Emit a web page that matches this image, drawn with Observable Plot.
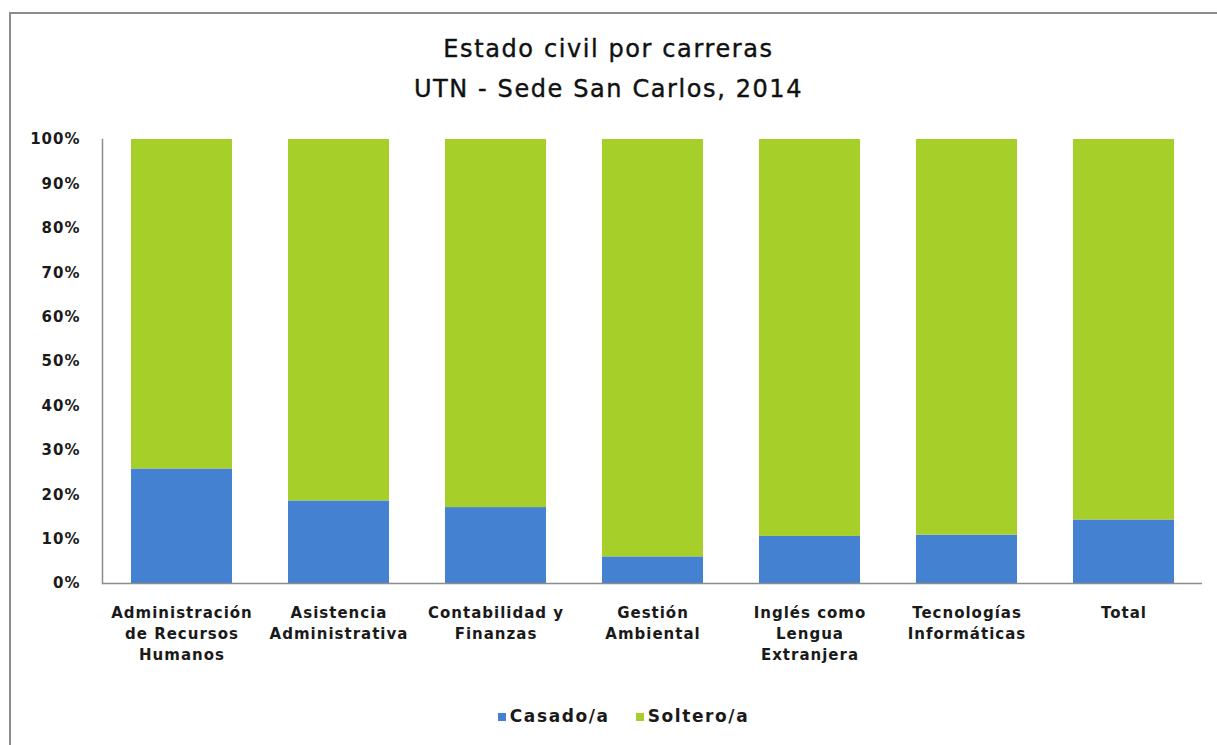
<!DOCTYPE html>
<html>
<head>
<meta charset="utf-8">
<script src="https://cdn.jsdelivr.net/npm/d3@7"></script>
<script src="https://cdn.jsdelivr.net/npm/@observablehq/plot@0.6"></script>
<style>
  html, body { margin: 0; padding: 0; background: #fff; width: 1217px; height: 745px; overflow: hidden; }
  #frame { position: absolute; left: 9px; top: 12px; width: 1300px; height: 800px; border-left: 2px solid #8c8c8c; border-top: 2px solid #8c8c8c; }
  #title { position: absolute; left: 0; top: 29px; width: 1217px; text-align: center; font-family: "DejaVu Sans", sans-serif; font-size: 24px; letter-spacing: 1.6px; line-height: 40px; color: #111; -webkit-text-stroke: 0.4px #111; }
  #chart { position: absolute; left: 0; top: 0; }
  #legend { position: absolute; left: 15px; top: 706px; width: 1217px; text-align: center; font-family: "DejaVu Sans", sans-serif; font-weight: bold; font-size: 17px; letter-spacing: 1.6px; color: #1a1a1a; }
  #legend span.sw { display: inline-block; width: 8px; height: 8px; margin-right: 4px; vertical-align: 1px; }
  #legend span.item { margin: 0 13px; }
  #chart svg text { letter-spacing: 1px; }
</style>
</head>
<body>
<div id="frame"></div>
<div id="chart"></div>
<div id="title">Estado civil por carreras<br>UTN - Sede San Carlos, 2014</div>
<div id="legend"></div>
<script>
const carreras = ["Administración de Recursos Humanos", "Asistencia Administrativa", "Contabilidad y Finanzas", "Gestión Ambiental", "Inglés como Lengua Extranjera", "Tecnologías Informáticas", "Total"];
const etiquetas = ["Administración\nde Recursos\nHumanos", "Asistencia\nAdministrativa", "Contabilidad y\nFinanzas", "Gestión\nAmbiental", "Inglés como\nLengua\nExtranjera", "Tecnologías\nInformáticas", "Total"];
const series = ["Casado/a", "Soltero/a"];
const colores = ["#4481d0", "#a7cf2a"];
const casado = [25.8, 18.6, 17.1, 6.0, 10.6, 10.9, 14.3];
const soltero = [74.2, 81.4, 82.9, 94.0, 89.4, 89.1, 85.7];
const yTicks = [0, 10, 20, 30, 40, 50, 60, 70, 80, 90, 100];

const data = [];
carreras.forEach((c, i) => data.push({carrera: c, serie: series[0], valor: casado[i]}));
carreras.forEach((c, i) => data.push({carrera: c, serie: series[1], valor: soltero[i]}));

const labelOf = new Map(carreras.map((c, i) => [c, etiquetas[i]]));

const chart = Plot.plot({
  width: 1217,
  height: 690,
  marginLeft: 102,
  marginRight: 15,
  marginTop: 139,
  marginBottom: 107,
  style: { fontFamily: "DejaVu Sans, sans-serif", fontWeight: "bold", fontSize: "15px", color: "#1a1a1a", background: "transparent" },
  x: { domain: carreras, paddingInner: 0.357, paddingOuter: 0.1785, label: null },
  y: { domain: [0, 100], label: null },
  color: { domain: series, range: colores },
  marks: [
    Plot.barY(data, { x: "carrera", y: "valor", fill: "serie", order: null }),
    Plot.axisY({ ticks: yTicks, tickSize: 0, tickPadding: 22, tickFormat: d => d + "%", label: null, fontSize: 15, fontWeight: "bold" }),
    Plot.axisX({ tickSize: 0, tickPadding: 20, tickFormat: d => labelOf.get(d), label: null, fontSize: 15, fontWeight: "bold", lineHeight: 1.4 }),
    Plot.ruleY([0], { stroke: "#8c8c8c", strokeWidth: 1.5 }),
    Plot.frame({ anchor: "left", stroke: "#8c8c8c", strokeWidth: 1.5 })
  ]
});
document.getElementById("chart").appendChild(chart);

const legend = document.getElementById("legend");
series.forEach((s, i) => {
  const item = document.createElement("span");
  item.className = "item";
  const sw = document.createElement("span");
  sw.className = "sw";
  sw.style.background = colores[i];
  item.appendChild(sw);
  item.appendChild(document.createTextNode(s));
  legend.appendChild(item);
});
</script>
</body>
</html>
